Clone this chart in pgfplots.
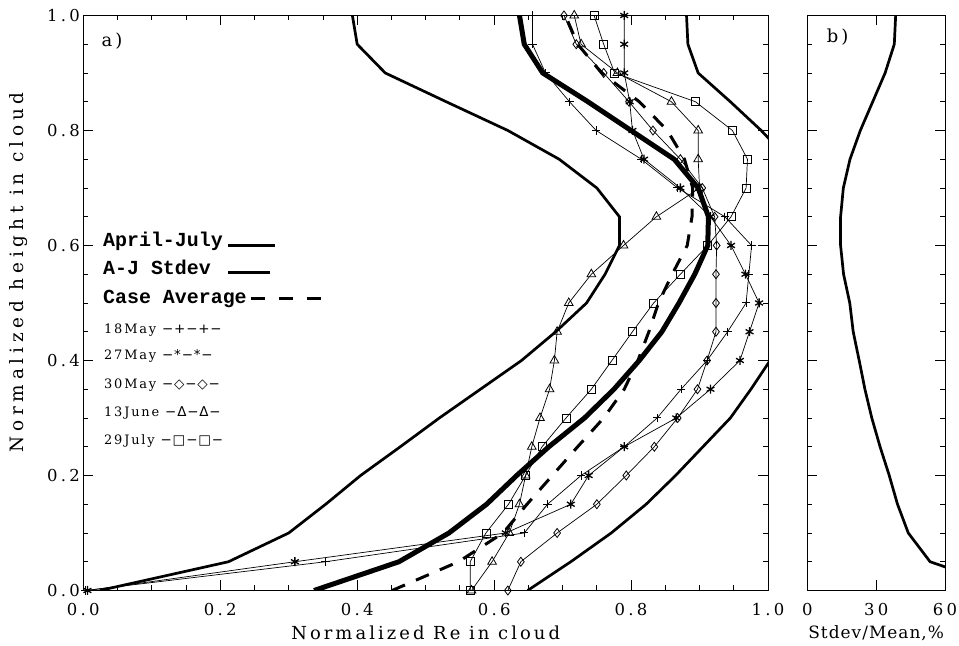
\documentclass[border=0pt]{standalone}
\usepackage{pgfplots}
\pgfplotsset{compat=1.18}
\usepackage{fontspec}
\setmainfont{DejaVu Serif}
\newfontfamily\symfont[LetterSpace=6]{DejaVu Sans}
\newfontfamily\legmono{Liberation Mono}
\newcommand{\tf}{\fontsize{16.5}{16.5}\selectfont\addfontfeature{LetterSpace=20}}
\newcommand{\lf}{\fontsize{18}{18}\selectfont\addfontfeature{LetterSpace=17}}
\newcommand{\ylf}{\fontsize{18.5}{18.5}\selectfont\addfontfeature{LetterSpace=26}}
\newcommand{\lgf}{\fontsize{13}{13}\selectfont\addfontfeature{LetterSpace=14}}
\pgfplotsset{
  myax/.style={
    scale only axis, height=575bp, ymin=0, ymax=1,
    ytick={0,0.2,0.4,0.6,0.8,1},
    minor y tick num=3,
    tick align=inside, xtick pos=both, ytick pos=both,
    major tick length=10bp, minor tick length=5bp,
    every tick/.style={black, line width=0.8bp},
    axis line style={line width=1bp},
    tick label style={font=\tf},
    label style={font=\lf},
    xticklabel style={yshift=-9bp},
    clip=true,
  }
}
\begin{document}
\begin{tikzpicture}[x=1bp,y=1bp]
\useasboundingbox (0,0) rectangle (959,646);
\begin{axis}[myax,
  at={(83.3bp,55.5bp)}, anchor=south west, width=684.7bp,
  xmin=0, xmax=1,
  xtick={0,0.2,0.4,0.6,0.8,1}, xticklabels={0.0,0.2,0.4,0.6,0.8,1.0},
  yticklabels={0.0,0.2,0.4,0.6,0.8,1.0},
  minor x tick num=3,
  xlabel={Normalized Re in cloud}, ylabel={Normalized height in cloud},
  xlabel style={at={(axis description cs:0.5,-0.0739)}, anchor=center},
  ylabel style={at={(axis description cs:-0.094,0.553)}, anchor=center, font=\ylf},
]
% April-July mean
\addplot[black, line width=5bp] coordinates {
(0.337,0) (0.461,0.05) (0.534,0.1) (0.589,0.15) (0.633,0.2) (0.680,0.25) (0.732,0.3)
(0.775,0.35) (0.812,0.4) (0.845,0.45) (0.870,0.5) (0.893,0.55) (0.912,0.6) (0.913,0.65)
(0.898,0.7) (0.863,0.75) (0.800,0.8) (0.737,0.85) (0.671,0.9) (0.644,0.95) (0.637,1.0)};
% A-J Stdev left
\addplot[black, line width=2.7bp] coordinates {
(0.024,0) (0.212,0.05) (0.300,0.1) (0.354,0.15) (0.405,0.2) (0.463,0.25) (0.520,0.3)
(0.580,0.35) (0.640,0.4) (0.690,0.45) (0.735,0.5) (0.762,0.55) (0.783,0.6) (0.783,0.65)
(0.750,0.7) (0.695,0.75) (0.620,0.8) (0.530,0.85) (0.441,0.9) (0.400,0.95) (0.393,1.0)};
% A-J Stdev right
\addplot[black, line width=2.7bp] coordinates {
(0.649,0) (0.712,0.05) (0.771,0.1) (0.822,0.15) (0.865,0.2) (0.905,0.25) (0.945,0.3)
(0.975,0.35) (1.003,0.4) (1.030,0.45) (1.040,0.5) (1.045,0.55) (1.045,0.6) (1.045,0.65)
(1.046,0.7) (1.030,0.75) (0.990,0.8) (0.945,0.85) (0.898,0.9) (0.883,0.95) (0.881,1.0)};
% Case average
\addplot[black, line width=3bp, dash pattern=on 14bp off 12bp] coordinates {
(0.451,0) (0.548,0.05) (0.613,0.1) (0.648,0.15) (0.685,0.2) (0.722,0.25) (0.760,0.3)
(0.790,0.35) (0.810,0.4) (0.826,0.45) (0.840,0.5) (0.860,0.55) (0.882,0.6) (0.889,0.65)
(0.890,0.7) (0.878,0.75) (0.853,0.8) (0.812,0.85) (0.757,0.9) (0.722,0.95) (0.704,1.0)};
% 18May
\addplot[black, line width=0.7bp, mark=+, mark size=4.2bp, mark options={line width=1bp}] coordinates {
(0.003,0) (0.354,0.05) (0.644,0.1) (0.678,0.15) (0.727,0.2) (0.790,0.25) (0.838,0.3)
(0.873,0.35) (0.911,0.4) (0.941,0.45) (0.968,0.5) (0.972,0.55) (0.976,0.6) (0.937,0.65)
(0.868,0.7) (0.815,0.75) (0.749,0.8) (0.710,0.85) (0.675,0.9) (0.656,0.95) (0.656,1.0)};
% 27May
\addplot[black, line width=0.7bp, mark=asterisk, mark size=4.5bp, mark options={line width=1.3bp}] coordinates {
(0.006,0) (0.309,0.05) (0.617,0.1) (0.712,0.15) (0.738,0.2) (0.790,0.25) (0.866,0.3)
(0.916,0.35) (0.959,0.4) (0.973,0.45) (0.987,0.5) (0.967,0.55) (0.946,0.6) (0.916,0.65)
(0.872,0.7) (0.819,0.75) (0.802,0.8) (0.798,0.85) (0.790,0.9) (0.790,0.95) (0.790,1.0)};
% 30May
\addplot[black, line width=0.7bp, mark=diamond, mark size=4.5bp, mark options={line width=0.8bp}] coordinates {
(0.620,0) (0.639,0.05) (0.692,0.1) (0.750,0.15) (0.793,0.2) (0.834,0.25) (0.868,0.3)
(0.897,0.35) (0.911,0.4) (0.924,0.45) (0.924,0.5) (0.924,0.55) (0.925,0.6) (0.922,0.65)
(0.904,0.7) (0.872,0.75) (0.832,0.8) (0.797,0.85) (0.760,0.9) (0.720,0.95) (0.702,1.0)};
% 13June
\addplot[black, line width=0.7bp, mark=triangle, mark size=5bp, mark options={line width=0.8bp}] coordinates {
(0.567,0) (0.597,0.05) (0.622,0.1) (0.637,0.15) (0.646,0.2) (0.655,0.25) (0.667,0.3)
(0.681,0.35) (0.688,0.4) (0.692,0.45) (0.709,0.5) (0.742,0.55) (0.789,0.6) (0.837,0.65)
(0.900,0.7) (0.898,0.75) (0.898,0.8) (0.859,0.85) (0.780,0.9) (0.727,0.95) (0.717,1.0)};
% 29July
\addplot[black, line width=0.7bp, mark=square, mark size=4bp, mark options={line width=0.8bp}] coordinates {
(0.565,0) (0.565,0.05) (0.588,0.1) (0.621,0.15) (0.646,0.2) (0.670,0.25) (0.705,0.3)
(0.742,0.35) (0.772,0.4) (0.802,0.45) (0.833,0.5) (0.872,0.55) (0.912,0.6) (0.946,0.65)
(0.968,0.7) (0.970,0.75) (0.948,0.8) (0.894,0.85) (0.776,0.9) (0.760,0.95) (0.746,1.0)};
\node[font=\lf, anchor=center] at (axis description cs:0.042,0.955) {a)};
\end{axis}
\begin{axis}[myax,
  at={(807.3bp,55.5bp)}, anchor=south west, width=137.7bp,
  xmin=0, xmax=60, xtick={0,30,60}, xticklabels={0,30,60}, yticklabels={},
  xlabel={Stdev/Mean,\%},
  xlabel style={at={(axis description cs:0.5,-0.0739)}, anchor=center,
    font=\fontsize{17}{17}\selectfont\addfontfeature{LetterSpace=6}},
]
\addplot[black, line width=2.7bp] coordinates {
(90,0) (53.5,0.05) (44.0,0.1) (39.3,0.15) (35.7,0.2) (31.7,0.25) (28.1,0.3)
(25.1,0.35) (22.6,0.4) (20.0,0.45) (18.5,0.5) (15.8,0.55) (14.5,0.6) (14.5,0.65)
(15.7,0.7) (18.6,0.75) (23.1,0.8) (28.5,0.85) (33.9,0.9) (37.9,0.95) (38.5,1.0)};
\node[font=\lf, anchor=center] at (axis description cs:0.22,0.962) {b)};
\end{axis}
% legend
\node[anchor=base west, font=\fontsize{20}{20}\legmono\bfseries, inner sep=0] at (103,399.3) {April-July};
\draw[line width=3bp] (228.3,400) -- (275,400);
\node[anchor=base west, font=\fontsize{20}{20}\legmono\bfseries, inner sep=0] at (103,371) {A-J Stdev};
\draw[line width=3bp] (228.3,373) -- (270,373);
\node[anchor=base west, font=\fontsize{20}{20}\legmono\bfseries, inner sep=0] at (103,342.7) {Case Average};
\draw[line width=3bp, dash pattern=on 14bp off 14bp] (251,347) -- (325,347);
\node[anchor=base west, font=\lgf, inner sep=0] at (104,312.7) {18May {\fontsize{13.5}{13.5}\symfont −+−+−}};
\node[anchor=base west, font=\lgf, inner sep=0] at (104,286.7) {27May {\fontsize{13.5}{13.5}\symfont −*−*−}};
\node[anchor=base west, font=\lgf, inner sep=0] at (104,257.7) {30May {\fontsize{13.5}{13.5}\symfont −◇−◇−}};
\node[anchor=base west, font=\lgf, inner sep=0] at (104,229.3) {13June {\fontsize{13.5}{13.5}\symfont −Δ−Δ−}};
\node[anchor=base west, font=\lgf, inner sep=0] at (104,201) {29July {\fontsize{13.5}{13.5}\symfont −□−□−}};
\end{tikzpicture}
\end{document}
